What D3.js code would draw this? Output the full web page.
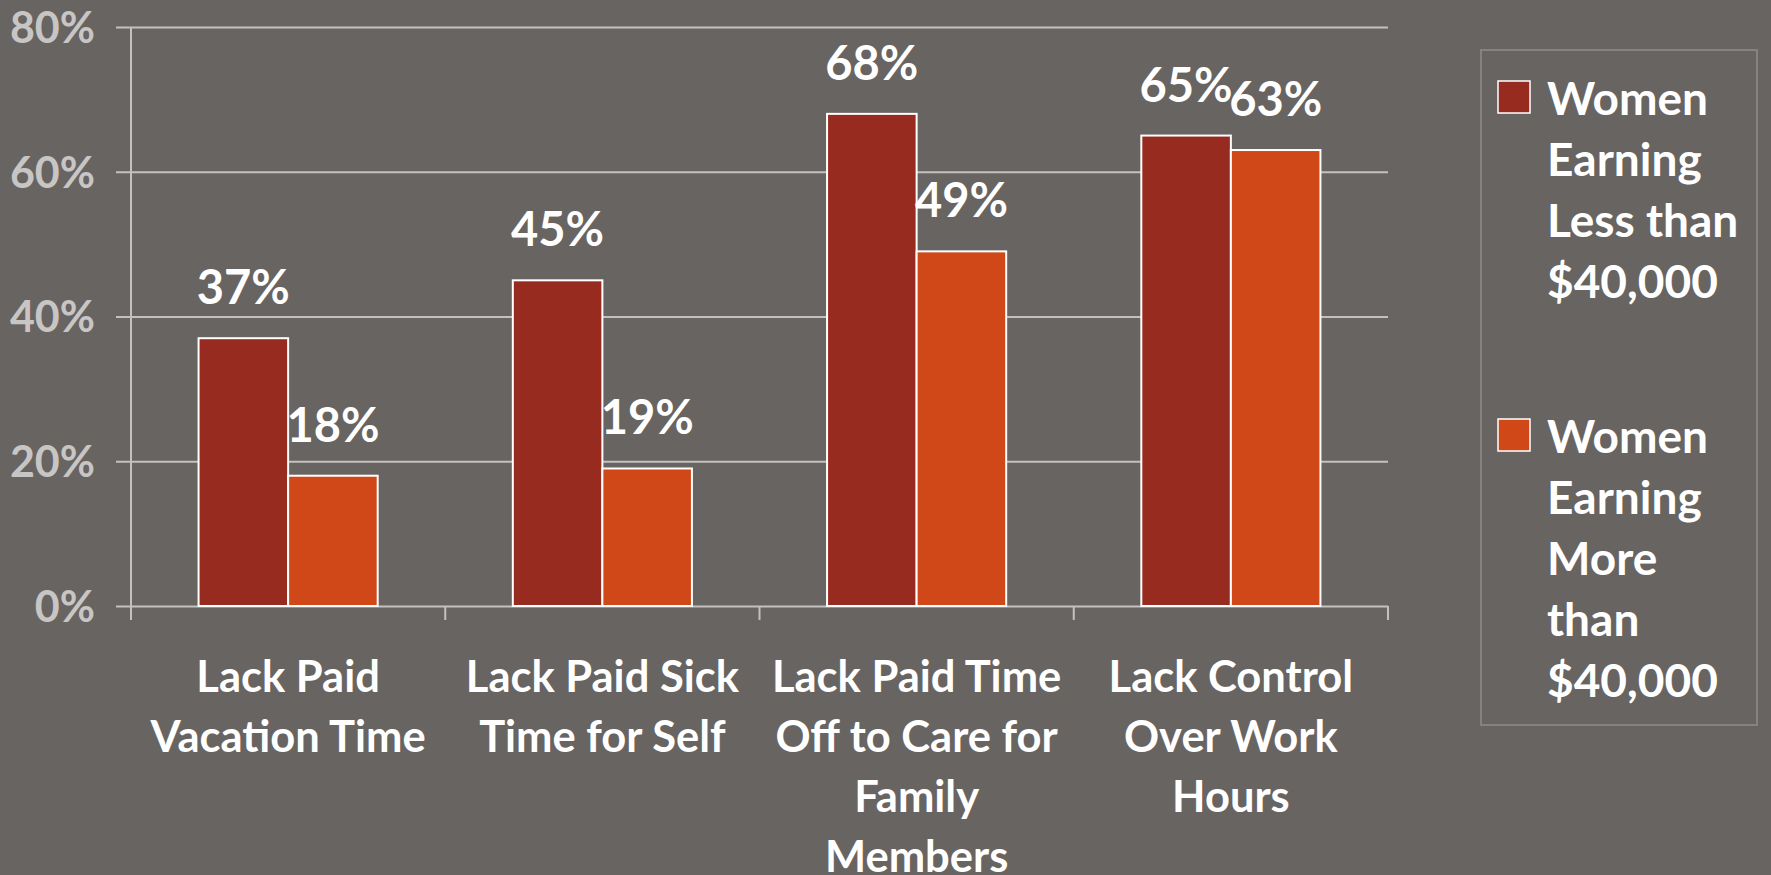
<!DOCTYPE html>
<html>
<head>
<meta charset="utf-8">
<script src="https://cdn.jsdelivr.net/npm/d3@7"></script>
<style>
  body { margin: 0; background: #686462; }
  svg { display: block; font-family: Lato, "Open Sans", sans-serif; font-weight: bold; }
</style>
</head>
<body>
<div id="chart"></div>
<script>
// chart data
var categories = ["vacation", "sick", "family", "control"];
var categoryLabels = [
  ["Lack Paid", "Vacation Time"],
  ["Lack Paid Sick", "Time for Self"],
  ["Lack Paid Time", "Off to Care for", "Family", "Members"],
  ["Lack Control", "Over Work", "Hours"]
];
var seriesKeys = ["less", "more"];
var seriesLabels = [
  ["Women", "Earning", "Less than", "$40,000"],
  ["Women", "Earning", "More", "than", "$40,000"]
];
var lessThan40k = [0.37, 0.45, 0.68, 0.65];
var moreThan40k = [0.18, 0.19, 0.49, 0.63];
var yTicks = [0, 0.2, 0.4, 0.6, 0.8];

var colors = { less: "#982b1f", more: "#d14818" };

var svgWidth = 1771;
var svgHeight = 875;

var svg = d3.select("#chart")
  .append("svg")
  .attr("width", svgWidth)
  .attr("height", svgHeight);

svg.append("rect")
  .attr("width", svgWidth)
  .attr("height", svgHeight)
  .attr("fill", "#686462");

// plot area edges
var plotLeft = 131, plotRight = 1388, plotTop = 27, plotBottom = 606;

var y = d3.scaleLinear()
  .domain([0, 0.8])
  .range([plotBottom, plotTop]);

var x = d3.scaleBand()
  .domain(categories)
  .range([plotLeft, plotRight])
  .paddingInner(0.43)
  .paddingOuter(0.215);

var xSub = d3.scaleBand()
  .domain(seriesKeys)
  .range([0, x.bandwidth()]);

// build rows for grouped bars
var rows = categories.map(function(c, i) {
  return { cat: c, less: lessThan40k[i], more: moreThan40k[i] };
});

// gridlines + y labels
var yAxis = svg.append("g")
  .attr("transform", "translate(116,0)")
  .call(d3.axisLeft(y)
    .tickValues(yTicks)
    .tickFormat(d3.format(".0%"))
    .tickSizeInner(-(plotRight - 116))
    .tickSizeOuter(0)
    .tickPadding(21));

yAxis.select(".domain").remove();
yAxis.selectAll("line")
  .attr("stroke", "#c3c1bf")
  .attr("stroke-width", 2);
yAxis.selectAll("text")
  .attr("fill", "#c8c6c4")
  .attr("font-size", "43px")
  .attr("font-family", "Lato, sans-serif")
  .attr("font-weight", "bold")
  .attr("dy", "0.36em");

// category boundary ticks (first one doubles as the y axis line)
var half = (x.step() - x.bandwidth()) / 2;
var bounds = categories.map(function(c) { return x(c) - half; });
bounds.push(x(categories[categories.length - 1]) + x.bandwidth() + half);

svg.append("line")
  .attr("x1", bounds[0]).attr("x2", bounds[0])
  .attr("y1", y(0.8)).attr("y2", plotBottom + 14)
  .attr("stroke", "#c3c1bf")
  .attr("stroke-width", 2);

svg.selectAll(".bound")
  .data(bounds.slice(1))
  .enter()
  .append("line")
  .attr("class", "bound")
  .attr("x1", d => d).attr("x2", d => d)
  .attr("y1", plotBottom).attr("y2", plotBottom + 14)
  .attr("stroke", "#c3c1bf")
  .attr("stroke-width", 2);

// bars
var groups = svg.selectAll(".group")
  .data(rows)
  .enter()
  .append("g")
  .attr("class", "group")
  .attr("transform", d => `translate(${x(d.cat)},0)`);

groups.selectAll("rect")
  .data(d => seriesKeys.map(k => ({ key: k, value: d[k] })))
  .enter()
  .append("rect")
  .attr("x", d => xSub(d.key))
  .attr("y", d => y(d.value))
  .attr("width", xSub.bandwidth())
  .attr("height", d => y(0) - y(d.value))
  .attr("fill", d => colors[d.key])
  .attr("stroke", "#ffffff")
  .attr("stroke-width", 2);

// value labels
groups.selectAll(".valueLabel")
  .data(d => seriesKeys.map(k => ({ key: k, value: d[k] })))
  .enter()
  .append("text")
  .attr("class", "valueLabel")
  .attr("x", d => xSub(d.key) + xSub.bandwidth() / 2)
  .attr("y", d => y(d.value) - 34)
  .attr("text-anchor", "middle")
  .attr("font-size", "47px")
  .attr("fill", "#ffffff")
  .text(d => d3.format(".0%")(d.value));

// category labels
var catLabels = svg.selectAll(".catLabel")
  .data(categories)
  .enter()
  .append("text")
  .attr("class", "catLabel")
  .attr("text-anchor", "middle")
  .attr("font-size", "43.5px")
  .attr("fill", "#ffffff");

catLabels.selectAll("tspan")
  .data((d, i) => categoryLabels[i].map(t => ({ cat: d, t: t })))
  .enter()
  .append("tspan")
  .attr("x", d => x(d.cat) + x.bandwidth() / 2)
  .attr("y", (d, j) => 692 + j * 60)
  .text(d => d.t);

// legend
var legend = svg.append("g");

legend.append("rect")
  .attr("x", 1481)
  .attr("y", 50)
  .attr("width", 276)
  .attr("height", 675)
  .attr("fill", "none")
  .attr("stroke", "#858280")
  .attr("stroke-width", 2);

var legendTops = [115, 453];

seriesKeys.forEach(function(k, i) {
  legend.append("rect")
    .attr("x", 1498)
    .attr("y", legendTops[i] - 34)
    .attr("width", 32)
    .attr("height", 32)
    .attr("fill", colors[k])
    .attr("stroke", "#ffffff")
    .attr("stroke-width", 1.5);

  legend.append("text")
    .attr("font-size", "46px")
    .attr("fill", "#ffffff")
    .selectAll("tspan")
    .data(seriesLabels[i])
    .enter()
    .append("tspan")
    .attr("x", 1547)
    .attr("y", (d, j) => legendTops[i] + j * 61)
    .text(d => d);
});
</script>
</body>
</html>
